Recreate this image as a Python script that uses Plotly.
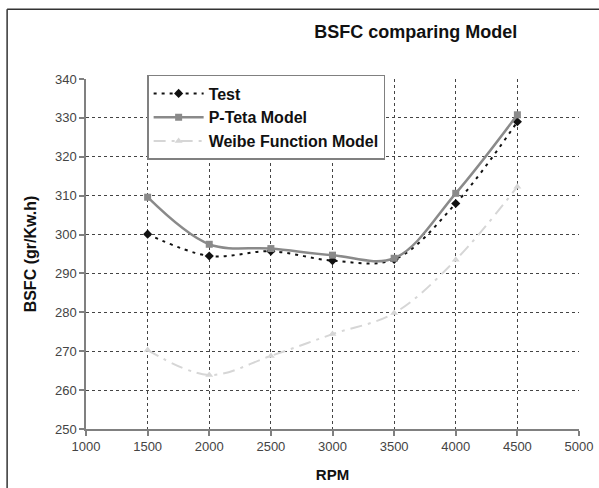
import plotly.graph_objects as go

rpm = [1500, 2000, 2500, 3000, 3500, 4000, 4500]
test = [300.1, 294.5, 295.7, 293.3, 293.6, 308.0, 329.0]
p_teta = [309.6, 297.5, 296.4, 294.7, 293.9, 310.6, 330.8]
weibe = [270.3, 263.9, 268.8, 274.4, 279.8, 293.5, 312.3]

x_ticks = [1000, 1500, 2000, 2500, 3000, 3500, 4000, 4500, 5000]
y_ticks = [250, 260, 270, 280, 290, 300, 310, 320, 330, 340]

FONT = "Liberation Sans, Arial, sans-serif"

fig = go.Figure()
fig.add_trace(go.Scatter(
    x=rpm, y=test, name="Test", mode="lines+markers", legendgroup="a",
    line=dict(color="#111111", width=2, dash="3px,5px", shape="spline"),
    marker=dict(symbol="diamond", size=7, color="#111111")))
fig.add_trace(go.Scatter(
    x=rpm, y=p_teta, name="P-Teta Model", mode="lines+markers", legendgroup="b",
    line=dict(color="#8a8a8a", width=2.5, shape="spline"),
    marker=dict(symbol="square", size=7, color="#8a8a8a")))
fig.add_trace(go.Scatter(
    x=rpm, y=weibe, name="Weibe Function Model", mode="lines+markers", legendgroup="c",
    line=dict(color="#d6d6d6", width=2, dash="12px,6px,3px,6px", shape="spline"),
    marker=dict(symbol="triangle-up", size=7, color="#d6d6d6")))

fig.update_layout(
    width=599, height=488,
    margin=dict(l=86, r=20, t=79, b=59),
    paper_bgcolor="white", plot_bgcolor="white",
    font=dict(family=FONT, color="#000000"),
    title=dict(text="<b>BSFC comparing Model</b>", x=0.694, xanchor="center",
               y=1 - 32 / 488, yanchor="middle", font=dict(size=18, family=FONT, color="#111111")),
    legend=dict(x=0.124, y=1.0115, xanchor="left", yanchor="top",
                bgcolor="white", bordercolor="#808080", borderwidth=1.5,
                font=dict(size=16, family=FONT, color="#111111", weight="bold"),
                traceorder="grouped", tracegroupgap=0, itemwidth=50),
    showlegend=True,
    shapes=[
        dict(type="line", xref="paper", yref="paper", x0=-0.16, x1=1.1, y0=1.199, y1=1.199,
             line=dict(color="#333333", width=1.5)),
        dict(type="line", xref="paper", yref="paper", x0=-0.16, x1=-0.16, y0=1.199, y1=-0.3,
             line=dict(color="#333333", width=1.5)),
    ],
)
fig.update_xaxes(
    range=[1000, 5000], tickvals=x_ticks, ticktext=[str(v) for v in x_ticks],
    showline=True, linecolor="#808080", linewidth=1.5,
    ticks="outside", ticklen=5, tickcolor="#808080", tickwidth=1.5,
    showgrid=True, gridcolor="#444444", griddash="3px,3px", gridwidth=1,
    zeroline=False, tickfont=dict(size=13, color="#444444", family=FONT),
    automargin=False,
    title=dict(text="<b>RPM</b>", font=dict(size=15, family=FONT, color="#111111"), standoff=16),
)
fig.update_yaxes(
    range=[250, 340], tickvals=y_ticks, ticktext=[str(v) for v in y_ticks],
    showline=True, linecolor="#808080", linewidth=1.5,
    ticks="outside", ticklen=5, tickcolor="#808080", tickwidth=1.5,
    showgrid=True, gridcolor="#444444", griddash="3px,3px", gridwidth=1,
    zeroline=False, tickfont=dict(size=13, color="#444444", family=FONT),
    automargin=False,
    title=dict(text="<b>BSFC (gr/Kw.h)</b>", font=dict(size=16, family=FONT, color="#111111"), standoff=14),
)

fig.write_html("out.html")
